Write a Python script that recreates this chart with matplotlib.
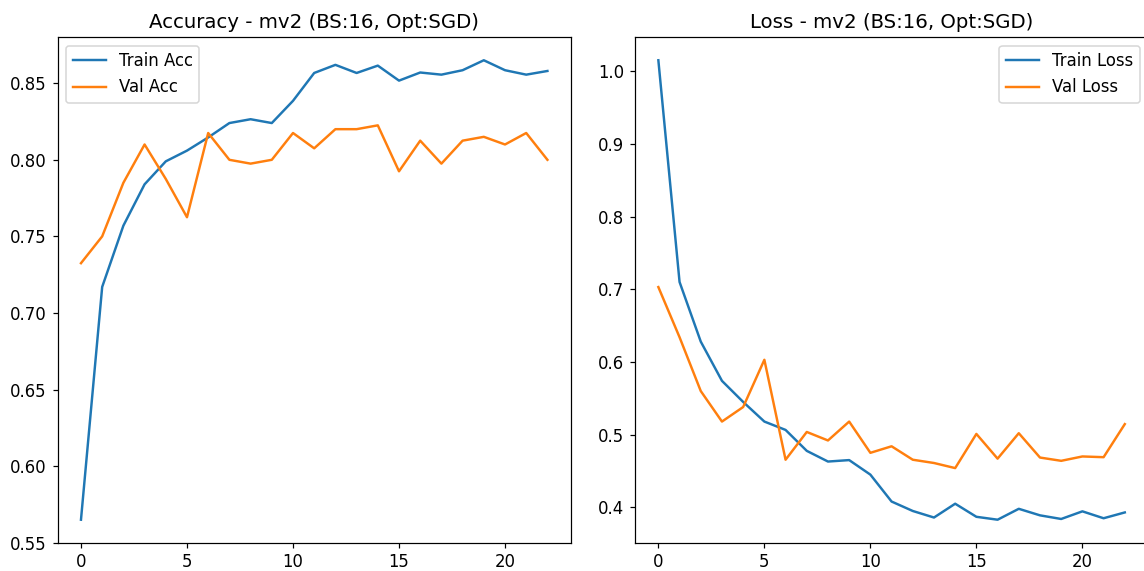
import matplotlib
matplotlib.use("Agg")
import matplotlib.pyplot as plt
import numpy as np

# historico de treino - mv2 (BS:16, Opt:SGD)
train_acc = [0.565, 0.717, 0.757, 0.784, 0.799, 0.806, 0.8146, 0.824, 0.8265, 0.824,
             0.8385, 0.8567, 0.862, 0.8567, 0.8615, 0.8517, 0.857, 0.8556, 0.8585,
             0.865, 0.8585, 0.8556, 0.858]
val_acc = [0.7325, 0.75, 0.785, 0.81, 0.7875, 0.7625, 0.8175, 0.80, 0.7975, 0.80,
           0.8175, 0.8075, 0.82, 0.82, 0.8225, 0.7925, 0.8125, 0.7975, 0.8125,
           0.815, 0.81, 0.8175, 0.80]
train_loss = [1.015, 0.71, 0.628, 0.574, 0.545, 0.518, 0.5065, 0.4777, 0.463, 0.465,
              0.445, 0.408, 0.395, 0.386, 0.405, 0.387, 0.383, 0.398, 0.389,
              0.384, 0.3945, 0.385, 0.393]
val_loss = [0.703, 0.634, 0.56, 0.518, 0.538, 0.603, 0.4655, 0.5037, 0.492, 0.518,
            0.475, 0.484, 0.4655, 0.461, 0.454, 0.501, 0.467, 0.502, 0.4685,
            0.464, 0.47, 0.469, 0.5145]

titulo = "mv2 (BS:16, Opt:SGD)"
epocas = np.arange(len(train_acc))

plt.rcParams["font.size"] = 10.8
plt.rcParams["lines.linewidth"] = 1.6

DPI = 110
fig = plt.figure(figsize=(1144 / DPI, 571 / DPI), dpi=DPI)
ax1 = fig.add_axes([0.0504, 0.0496, 0.4485, 0.8851])
ax2 = fig.add_axes([0.5551, 0.0496, 0.4485, 0.8851])

ax1.plot(epocas, train_acc, label="Train Acc")
ax1.plot(epocas, val_acc, label="Val Acc")
ax1.set_title(f"Accuracy - {titulo}")
ax1.legend(loc="upper left")

ax2.plot(epocas, train_loss, label="Train Loss")
ax2.plot(epocas, val_loss, label="Val Loss")
ax2.set_title(f"Loss - {titulo}")
ax2.legend(loc="upper right")

fig.savefig("out.png", dpi=DPI)
